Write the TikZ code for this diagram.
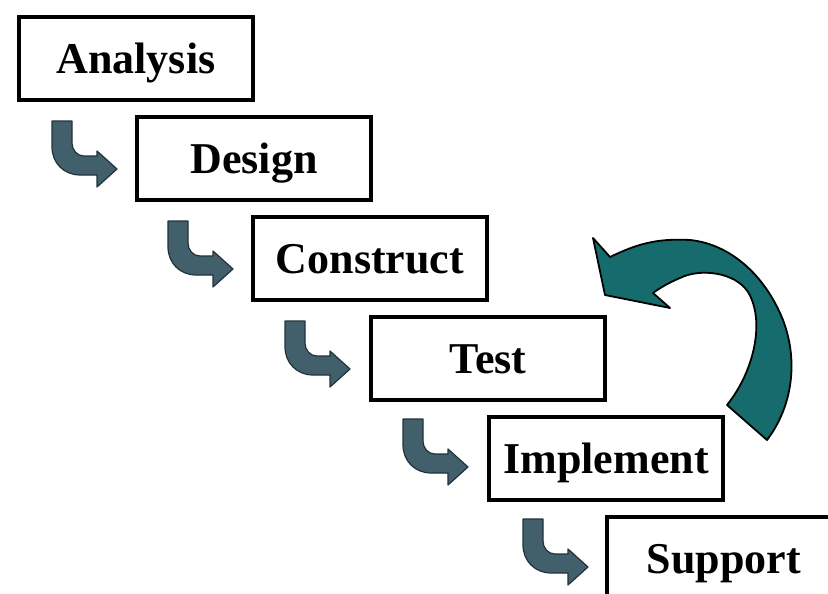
\documentclass[tikz,border=0pt]{standalone}
\usepackage{fontspec}
\setmainfont{Liberation Serif}
\usetikzlibrary{calc}
\definecolor{stepink}{RGB}{0,0,0}
\definecolor{bentfill}{RGB}{66,96,108}
\definecolor{bentline}{RGB}{34,50,58}
\definecolor{loopfill}{RGB}{22,108,108}
\begin{document}
\begin{tikzpicture}[x=1pt,y=-1pt,
  phase/.style={draw=stepink,line width=4pt,anchor=north west,
    minimum width=234pt,minimum height=83pt,inner sep=0pt,
    text height=30pt,text depth=0pt,
    font=\bfseries\fontsize{44}{44}\selectfont},
  pics/bentarrow/.style={code={
    \fill[bentfill,draw=bentline,line width=1.2pt,line join=round]
      (0,0) -- (20,0) -- (20,22)
      .. controls (20,29) and (25,35) .. (32,35)
      -- (45,35) -- (45,30) -- (65,48) -- (45,66) -- (45,54) -- (28,54)
      .. controls (12,54) and (0,42) .. (0,26) -- cycle;
  }}]
\useasboundingbox (0,0) rectangle (828,594);
\clip (0,0) rectangle (828,594);

% the six phases, stepping down to the right
\node[phase] (ana) at (17,15)  {Analysis};
\node[phase] (des) at (135,115) {Design};
\node[phase] (con) at (251,215) {Construct};
\node[phase] (tst) at (369,315) {Test};
\node[phase] (imp) at (487,415) {Implement};
\node[phase] (sup) at (605,515) {Support};

% bent arrows leading from each phase into the next
\pic at ($(ana.south west)+(35,19)$) {bentarrow};
\pic at ($(des.south west)+(33,19)$) {bentarrow};
\pic at ($(con.south west)+(34,19)$) {bentarrow};
\pic at ($(tst.south west)+(34,17)$) {bentarrow};
\pic at ($(imp.south west)+(36,17)$) {bentarrow};

% feedback arrow curving from Implement back to Construct
\filldraw[fill=loopfill,draw=black,line width=1.8pt,line join=round]
  (593,238) -- (610,257)
  .. controls (635,245) and (655,238) .. (690,240)
  .. controls (730,244) and (765,275) .. (783,320)
  .. controls (800,365) and (790,410) .. (767,440)
  -- (727,405)
  .. controls (755,370) and (765,320) .. (748,292)
  .. controls (735,272) and (700,268) .. (680,278)
  .. controls (668,283) and (660,288) .. (653,293)
  -- (670,308) -- (605,295) -- cycle;
\end{tikzpicture}
\end{document}
